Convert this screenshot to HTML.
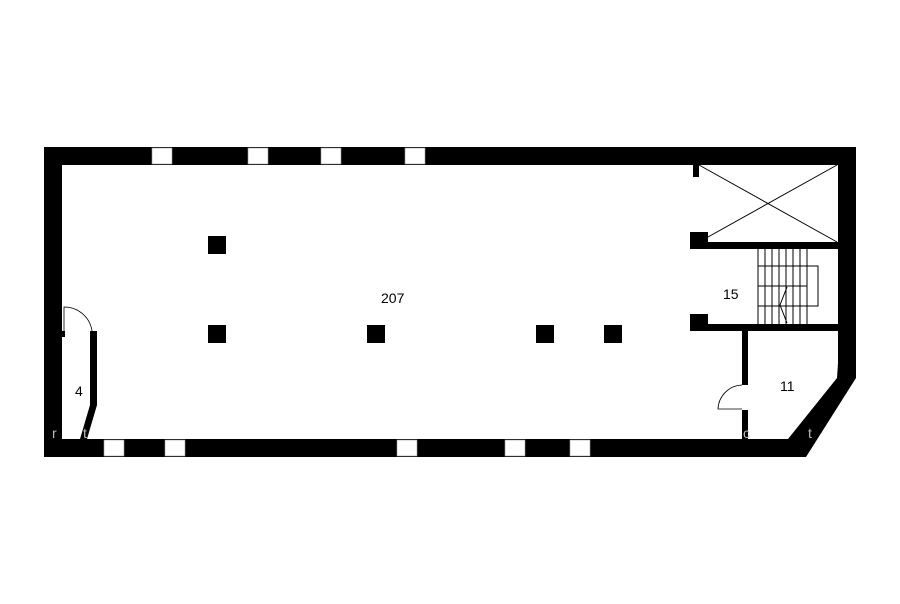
<!DOCTYPE html>
<html><head><meta charset="utf-8"><style>html,body{margin:0;padding:0;background:#fff}svg{display:block}</style></head>
<body>
<svg width="900" height="604" viewBox="0 0 900 604" xmlns="http://www.w3.org/2000/svg" font-family="Liberation Sans, sans-serif">
<rect width="900" height="604" fill="#fff"/>
<!-- outer walls -->
<rect x="44" y="147" width="812" height="18" fill="#000"/>
<rect x="44" y="147" width="18" height="310" fill="#000"/>
<rect x="44" y="439" width="753" height="18" fill="#000"/>
<rect x="838" y="147" width="18" height="218" fill="#000"/>
<polygon points="838,363 856,363 856,378 806,457 788,457 788,439 837,378" fill="#000"/>
<!-- windows top -->
<g fill="#fff" stroke="#999" stroke-width="0.6">
<rect x="152" y="148" width="20" height="16"/><rect x="248" y="148" width="20" height="16"/>
<rect x="321" y="148" width="20" height="16"/><rect x="405" y="148" width="20" height="16"/>
<rect x="104" y="440" width="20" height="16"/><rect x="165" y="440" width="20" height="16"/>
<rect x="397" y="440" width="20" height="16"/><rect x="505" y="440" width="20" height="16"/>
<rect x="570" y="440" width="20" height="16"/>
</g>
<!-- columns -->
<g fill="#000">
<rect x="208" y="236" width="18" height="18"/><rect x="208" y="325" width="18" height="18"/>
<rect x="367" y="325" width="18" height="18"/><rect x="536" y="325" width="18" height="18"/>
<rect x="604" y="325" width="18" height="18"/>
<rect x="690" y="232" width="18" height="17"/><rect x="690" y="314" width="18" height="17"/>
<rect x="693" y="165" width="6" height="12"/>
<rect x="708" y="242" width="130" height="7"/>
<rect x="708" y="324" width="130" height="7"/>
<rect x="742" y="331" width="6" height="54"/>
<rect x="742" y="410" width="6" height="29"/>
<polygon points="90,331 97,331 97,405 87,439 80,439 90,405"/>
<rect x="62" y="331" width="3" height="6"/>
</g>
<!-- elevator X -->
<g stroke="#000" stroke-width="1" fill="none">
<line x1="699" y1="165" x2="837" y2="242"/><line x1="699" y1="242" x2="837" y2="165"/>
<!-- stairs -->
<line x1="758" y1="249" x2="758" y2="324"/><line x1="765" y1="249" x2="765" y2="324"/>
<line x1="772" y1="249" x2="772" y2="324"/><line x1="779" y1="249" x2="779" y2="324"/>
<line x1="786" y1="249" x2="786" y2="324"/><line x1="793" y1="249" x2="793" y2="324"/>
<line x1="800" y1="249" x2="800" y2="324"/><line x1="807" y1="249" x2="807" y2="324"/>
<line x1="758" y1="266" x2="807" y2="266"/><line x1="758" y1="286" x2="807" y2="286"/>
<line x1="758" y1="306" x2="807" y2="306"/>
<polyline points="807,266 818,266 818,306 807,306"/>
<polyline points="787,287 780,305 787,323"/>
<!-- doors -->
<path d="M64,331 L64,307 A28,28 0 0 1 92,331" stroke-width="0.8"/>
<path d="M742,385 A25,25 0 0 0 718,409 L742,409" stroke-width="0.8"/>
</g>
<g font-size="14" fill="#000">
<text x="381" y="303">207</text>
<text x="723" y="299">15</text>
<text x="780" y="391">11</text>
<text x="75" y="396">4</text>
</g>
<g font-size="14" fill="#bbb">
<text x="52" y="438">r</text><text x="83" y="438">t</text>
<text x="743" y="438">c</text><text x="808" y="438">t</text>
</g>
</svg>
</body></html>
